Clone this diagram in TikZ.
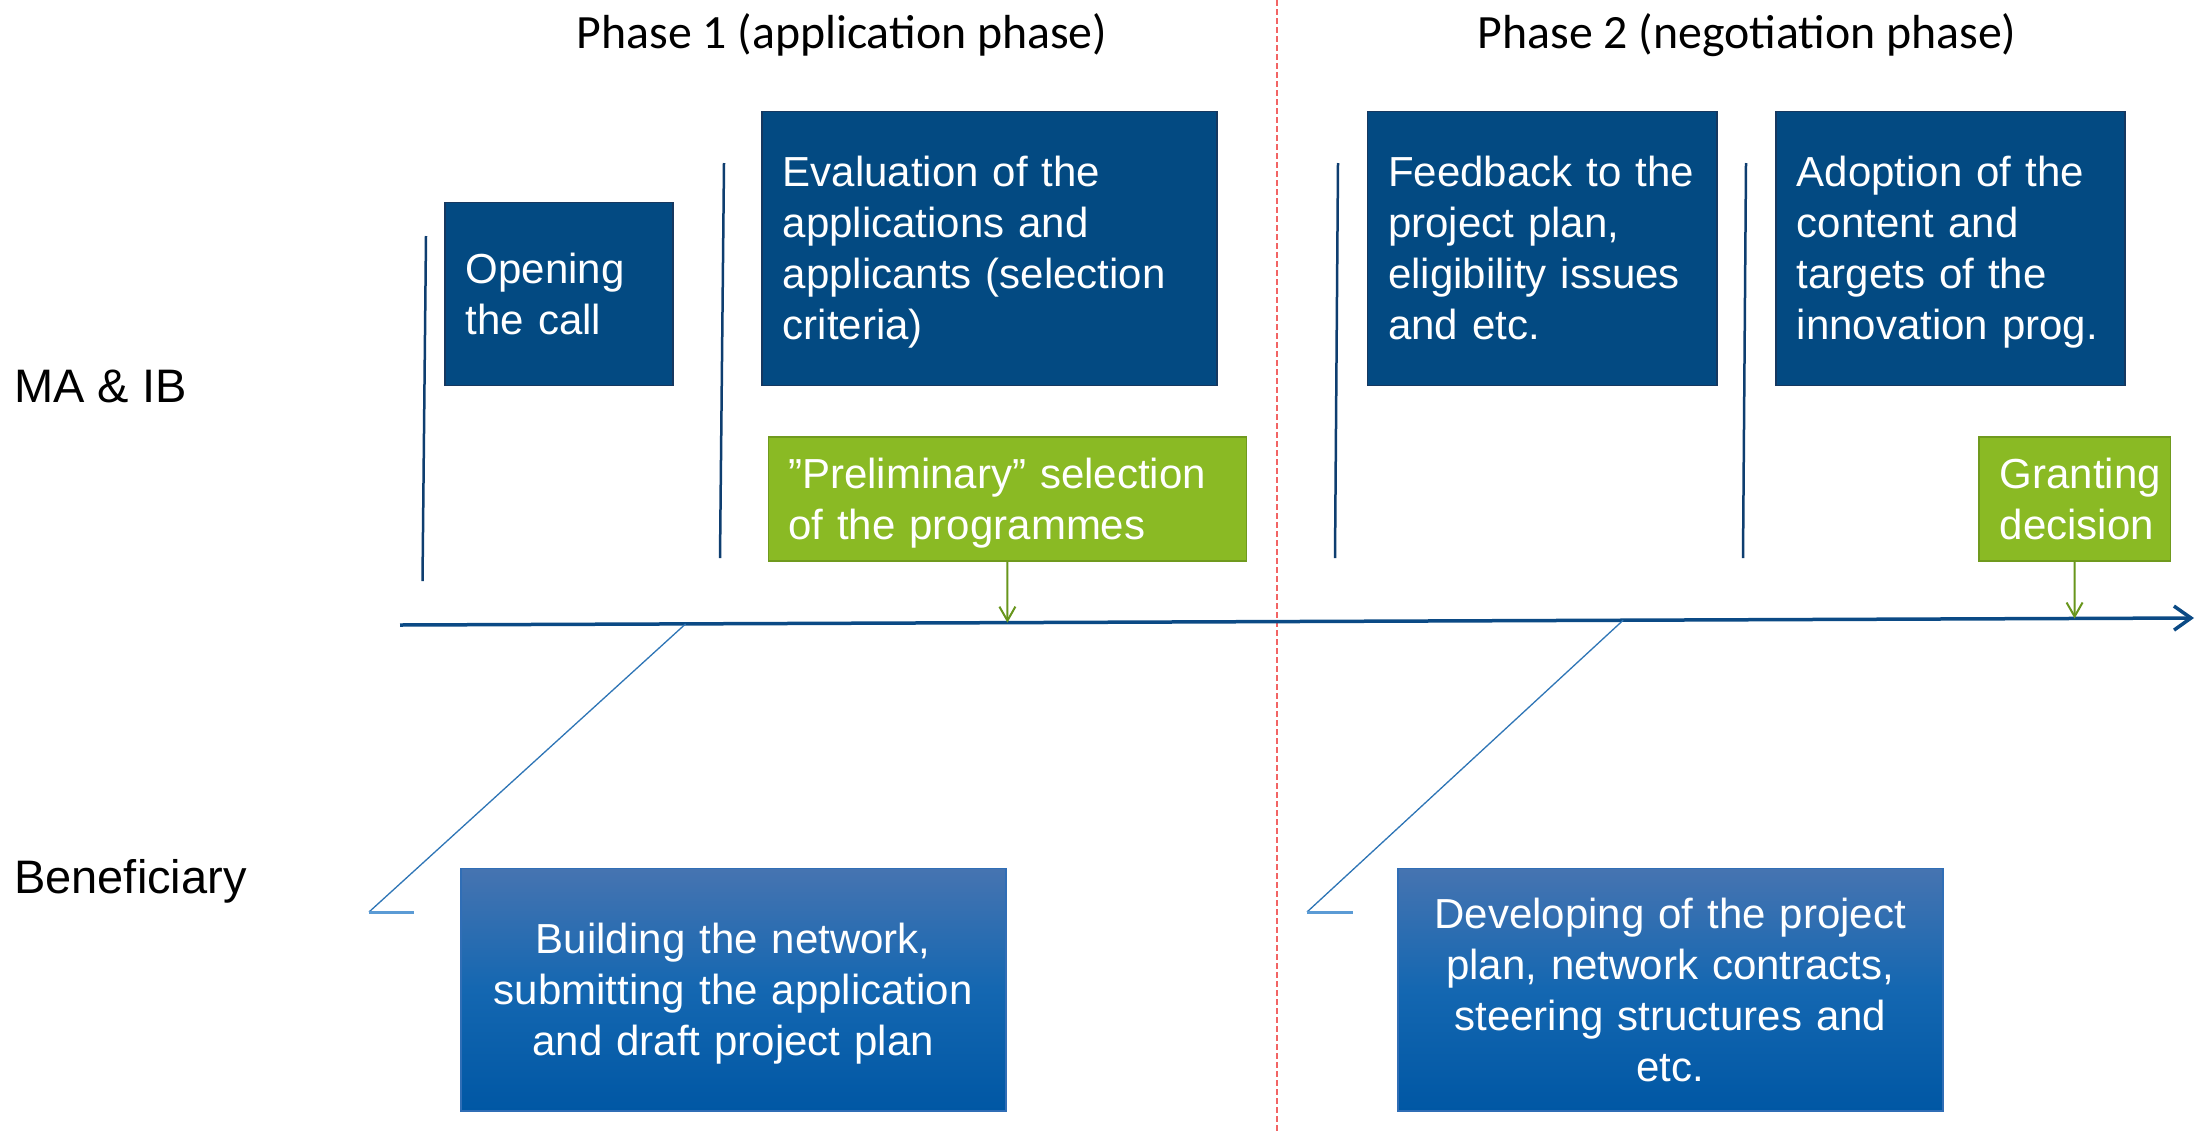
\documentclass[tikz,border=0pt]{standalone}
\usepackage{fontspec}
\setmainfont{Liberation Sans}
\newfontfamily\titlefont{Carlito}
\usetikzlibrary{arrows.meta,calc}
\newcommand\nodepthline[1]{\raisebox{0pt}[\height][0pt]{#1}}
\definecolor{boxblue}{RGB}{3,74,130}
\definecolor{boxedge}{RGB}{22,56,96}
\definecolor{grfill}{RGB}{138,186,36}
\definecolor{gredge}{RGB}{112,154,30}
\definecolor{grarrow}{RGB}{104,150,28}
\definecolor{tlblue}{RGB}{11,74,133}
\definecolor{vblue}{RGB}{14,62,112}
\definecolor{dblue}{RGB}{46,117,182}
\definecolor{dblue2}{RGB}{91,155,213}
\definecolor{redd}{RGB}{242,100,100}
\definecolor{gtop}{RGB}{70,116,177}
\definecolor{gmid}{RGB}{20,103,177}
\definecolor{gbot}{RGB}{0,87,164}
\definecolor{gedge}{RGB}{48,110,182}
\begin{document}
\begin{tikzpicture}[x=1pt,y=-1pt,
  topbox/.style={draw=boxedge,line width=1.5pt,fill=boxblue,text=white,anchor=north west,
    inner xsep=21pt,inner ysep=0pt,align=left,font=\fontsize{42}{51}\selectfont},
  greenbox/.style={topbox,draw=gredge,fill=grfill},
  benbox/.style={draw=gedge,line width=1.5pt,top color=gtop,bottom color=gbot,middle color=gmid,
    text=white,anchor=north west,inner xsep=10pt,inner ysep=0pt,align=center,
    font=\fontsize{42}{51}\selectfont},
  phasetitle/.style={font=\titlefont\fontsize{47.8}{57}\selectfont,anchor=base,inner sep=0pt},
  rowlabel/.style={font=\fontsize{47}{56}\selectfont,anchor=base west,inner sep=0pt},
  vline/.style={vblue,line width=2.5pt},
  diag/.style={dblue,line width=1.3pt},
  foot/.style={dblue2,line width=3pt},
  grarr/.style={grarrow,line width=2pt,-{Straight Barb[length=14pt,width=16pt]}},
  timeline/.style={tlblue,line width=3.5pt,-{Straight Barb[length=17pt,width=24pt]}},
  phasesep/.style={redd,line width=2pt,dash pattern=on 6pt off 3pt}
]
\fill[white] (0,0) rectangle (2197,1133);
\useasboundingbox (0,0) rectangle (2197,1133);

% phase separator
\coordinate (r0) at (1276.5,0);
\coordinate (r1) at (1276.5,1133);
\draw[phasesep] (r0) -- (r1);

% titles and row labels
\node[phasetitle] (t1) at (842,48) {Phase 1 (application phase)};
\node[phasetitle] (t2) at (1747,48) {Phase 2 (negotiation phase)};
\node[rowlabel] (ma) at (14,402) {MA \& IB};
\node[rowlabel] (ben) at (14,893) {Beneficiary};

% top boxes
\node[topbox,text width=186pt,minimum height=183pt] (open) at (444,201.5) {Opening\\the call};
\node[topbox,text width=413pt,minimum height=274pt] (eval) at (761,110.5) {Evaluation of the\\applications and\\applicants (selection\\\nodepthline{criteria)}};
\node[topbox,text width=307.5pt,minimum height=274pt] (feed) at (1366.5,110.5) {Feedback to the\\project plan,\\eligibility issues\\and etc.};
\node[topbox,text width=307pt,minimum height=274pt] (adopt) at (1775,110.5) {Adoption of the\\content and\\targets of the\\\nodepthline{innovation prog.}};
\node[greenbox,inner xsep=20pt,text width=438pt,minimum height=124pt] (prelim) at (767.5,436) {”Preliminary” selection\\\nodepthline{of the programmes}};
\node[greenbox,text width=149.5pt,minimum height=124pt] (grant) at (1978,436) {Granting\\decision};

% beneficiary boxes
\node[benbox,text width=525pt,minimum height=242.5pt] (build) at (460,867.5) {Building the network,\\submitting the application\\\nodepthline{and draft project plan}};
\node[benbox,text width=525pt,minimum height=242.5pt] (devel) at (1397,867.5) {Developing of the project\\plan, network contracts,\\steering structures and\\etc.};

% vertical marker lines
\coordinate (v1a) at (426,236);   \coordinate (v1b) at (422.5,581);
\coordinate (v2a) at (724,163);   \coordinate (v2b) at (720,558);
\coordinate (v3a) at (1338,163);  \coordinate (v3b) at (1335,558);
\coordinate (v4a) at (1746,163);  \coordinate (v4b) at (1743,558);
\draw[vline] (v1a) -- (v1b);
\draw[vline] (v2a) -- (v2b);
\draw[vline] (v3a) -- (v3b);
\draw[vline] (v4a) -- (v4b);

% timeline
\coordinate (tl0) at (400,625);
\coordinate (tl1) at (2194,618);
\draw[timeline] (tl0) -- (tl1);

% green arrows
\draw[grarr] (prelim.south) -- ($(tl0)!(prelim.south)!(tl1)$);
\draw[grarr] (grant.south) -- ($(tl0)!(grant.south)!(tl1)$);

% diagonals to beneficiary
\coordinate (d1a) at ($(tl0)!0.1592!(tl1)$);
\coordinate (d1b) at (369,912);
\coordinate (d1c) at (414,912);
\coordinate (d2a) at ($(tl0)!0.6818!(tl1)$);
\coordinate (d2b) at (1307,912);
\coordinate (d2c) at (1352.5,912);
\draw[diag] (d1a) -- (d1b);
\draw[foot] (d1b) -- (d1c);
\draw[diag] (d2a) -- (d2b);
\draw[foot] (d2b) -- (d2c);
\end{tikzpicture}
\end{document}
